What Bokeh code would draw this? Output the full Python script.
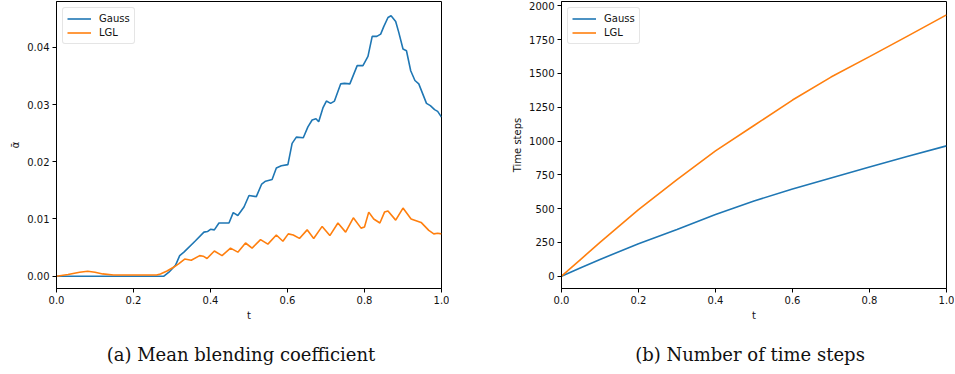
from bokeh.plotting import figure
from bokeh.models import FixedTicker, NumeralTickFormatter, Div
from bokeh.layouts import column, row
from bokeh.embed import file_html
from bokeh.resources import INLINE

BLUE = "#1f77b4"
ORANGE = "#ff7f0e"

# ---- (a) mean blending coefficient ----
t_gauss = [0.0, 0.10, 0.20, 0.279, 0.292, 0.309, 0.320, 0.331, 0.361, 0.383, 0.392, 0.400, 0.410,
           0.422, 0.448, 0.459, 0.471, 0.487, 0.500, 0.519, 0.533, 0.543, 0.560, 0.571, 0.584,
           0.601, 0.612, 0.623, 0.641, 0.653, 0.664, 0.674, 0.681, 0.692, 0.701, 0.712, 0.722,
           0.738, 0.748, 0.762, 0.781, 0.796, 0.809, 0.820, 0.832, 0.842, 0.850, 0.861, 0.869,
           0.881, 0.889, 0.900, 0.909, 0.920, 0.931, 0.941, 0.961, 0.971, 0.982, 0.990, 1.0]
alpha_gauss = [0.0, 0.0, 0.0, 0.0, 0.0007, 0.0019, 0.0036, 0.0042, 0.0062, 0.0077, 0.0078, 0.0082, 0.0081,
               0.0093, 0.0093, 0.0111, 0.0106, 0.0121, 0.0141, 0.0139, 0.0161, 0.0166, 0.0169, 0.0189, 0.0193,
               0.0195, 0.0232, 0.0243, 0.0242, 0.0261, 0.0273, 0.0275, 0.0270, 0.0294, 0.0306, 0.0302, 0.0306,
               0.0336, 0.0337, 0.0336, 0.0368, 0.0368, 0.0384, 0.0419, 0.0419, 0.0423, 0.0436, 0.0452, 0.0455,
               0.0445, 0.0426, 0.0397, 0.0394, 0.0359, 0.0342, 0.0336, 0.0302, 0.0298, 0.0291, 0.0288, 0.0278]

t_lgl = [0.0, 0.03, 0.06, 0.081, 0.10, 0.12, 0.148, 0.20, 0.26, 0.270, 0.287, 0.305, 0.318, 0.333,
         0.350, 0.372, 0.381, 0.391, 0.410, 0.430, 0.452, 0.471, 0.491, 0.508, 0.530, 0.549, 0.571,
         0.588, 0.602, 0.615, 0.631, 0.651, 0.668, 0.690, 0.710, 0.731, 0.751, 0.771, 0.791, 0.800,
         0.811, 0.824, 0.840, 0.852, 0.861, 0.881, 0.900, 0.921, 0.947, 0.967, 0.980, 0.990, 1.0]
alpha_lgl = [0.0, 0.0003, 0.0007, 0.00087, 0.0007, 0.0004, 0.0002, 0.0002, 0.0002, 0.0004, 0.0009, 0.0016, 0.0022, 0.0030,
             0.0028, 0.0036, 0.0035, 0.0031, 0.0044, 0.0036, 0.0049, 0.0042, 0.0058, 0.0049, 0.0064, 0.0056, 0.0072,
             0.0061, 0.0074, 0.0072, 0.0066, 0.0081, 0.0066, 0.0087, 0.0071, 0.0093, 0.0077, 0.0102, 0.0084, 0.0086,
             0.0112, 0.0100, 0.0093, 0.0112, 0.0114, 0.0098, 0.0119, 0.0100, 0.0094, 0.0080, 0.0074, 0.0075, 0.0074]

# ---- (b) number of time steps ----
t_steps = [0.0, 0.05, 0.1, 0.2, 0.3, 0.4, 0.5, 0.6, 0.7, 0.8, 0.9, 1.0]
steps_gauss = [0, 62, 124, 240, 345, 457, 556, 645, 727, 808, 888, 964]
steps_lgl = [0, 125, 250, 492, 715, 927, 1115, 1303, 1473, 1624, 1778, 1933]

x_ticks = [0.0, 0.2, 0.4, 0.6, 0.8, 1.0]
alpha_ticks = [0.0, 0.01, 0.02, 0.03, 0.04]
steps_ticks = [0, 250, 500, 750, 1000, 1250, 1500, 1750, 2000]

caption_a = "(a) Mean blending coefficient"
caption_b = "(b) Number of time steps"

FONT = "DejaVu Sans"
TXT = "#111111"


def style(p, yticks, yfmt, ylabel):
    p.outline_line_color = "black"
    p.outline_line_width = 1
    p.xgrid.visible = False
    p.ygrid.visible = False
    for ax in (p.xaxis[0], p.yaxis[0]):
        ax.major_label_text_font = FONT
        ax.major_label_text_font_size = "10px"
        ax.major_label_text_color = TXT
        ax.axis_label_text_font = FONT
        ax.axis_label_text_font_size = "10px"
        ax.axis_label_text_font_style = "normal"
        ax.axis_label_text_color = TXT
        ax.major_tick_in = 0
        ax.major_tick_out = 4
        ax.minor_tick_in = 0
        ax.minor_tick_out = 0
        ax.axis_line_color = "black"
        ax.major_tick_line_color = "black"
        ax.major_label_standoff = 3
    p.xaxis[0].ticker = FixedTicker(ticks=x_ticks)
    p.xaxis[0].formatter = NumeralTickFormatter(format="0.0")
    p.xaxis[0].axis_label = "t"
    p.xaxis[0].axis_label_standoff = 3
    p.yaxis[0].ticker = FixedTicker(ticks=yticks)
    p.yaxis[0].formatter = NumeralTickFormatter(format=yfmt)
    p.yaxis[0].axis_label = ylabel
    p.yaxis[0].axis_label_standoff = 3
    lg = p.legend[0]
    lg.location = "top_left"
    lg.label_text_font = FONT
    lg.label_text_font_size = "10px"
    lg.label_text_color = TXT
    lg.glyph_width = 24
    lg.glyph_height = 13
    lg.label_height = 13
    lg.label_standoff = 8
    lg.spacing = 1
    lg.padding = 4
    lg.margin = 6
    lg.border_line_color = "#cccccc"
    lg.border_line_width = 1
    lg.border_radius = 3
    lg.background_fill_alpha = 0.9


pa = figure(width=449, height=328, x_range=(0, 1), y_range=(-0.00215, 0.048),
            output_backend="svg", toolbar_location=None,
            min_border_left=56, min_border_right=8, min_border_top=1, min_border_bottom=40)
pa.line(t_gauss, alpha_gauss, line_color=BLUE, line_width=1.6, legend_label="Gauss")
pa.line(t_lgl, alpha_lgl, line_color=ORANGE, line_width=1.6, legend_label="LGL")
style(pa, alpha_ticks, "0.00", "ᾱ")

pb = figure(width=505, height=328, x_range=(0, 1), y_range=(-91, 2032),
            output_backend="svg", toolbar_location=None,
            min_border_left=112, min_border_right=8, min_border_top=1, min_border_bottom=40)
pb.line(t_steps, steps_gauss, line_color=BLUE, line_width=1.6, legend_label="Gauss")
pb.line(t_steps, steps_lgl, line_color=ORANGE, line_width=1.6, legend_label="LGL")
style(pb, steps_ticks, "0", "Time steps")

cap_style = {"font-family": "DejaVu Serif", "font-size": "18px", "color": "#111111",
             "text-align": "center", "padding-top": "16px", "line-height": "22px"}
cap_a = Div(text=caption_a, width=482, styles=cap_style, margin=(0, 0, 0, 0))
cap_b = Div(text=caption_b, width=300, styles=cap_style, margin=(0, 0, 0, 118))

layout = column(row(pa, pb), row(cap_a, cap_b))

open("out.html", "w").write(file_html(layout, INLINE))
